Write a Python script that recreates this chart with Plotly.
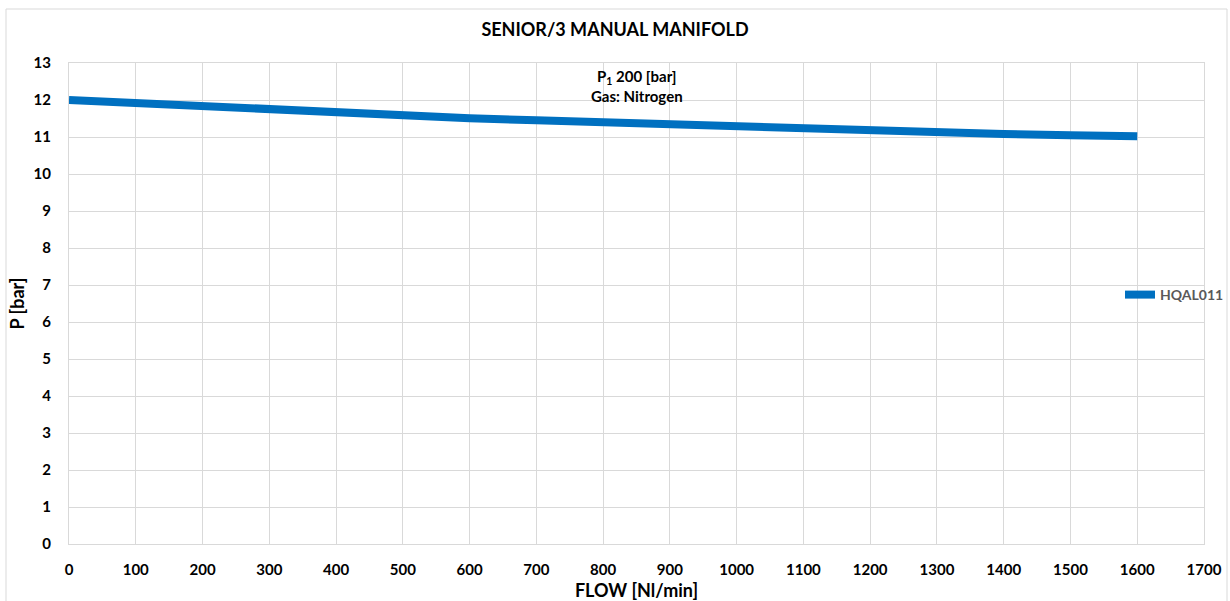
import plotly.graph_objects as go

flow = [0, 100, 200, 300, 400, 500, 600, 700, 800, 900, 1000, 1100, 1200, 1300, 1400, 1500, 1600]
pressure = [12.00, 11.91, 11.83, 11.74, 11.65, 11.58, 11.51, 11.45, 11.39, 11.33, 11.27, 11.23, 11.17, 11.12, 11.08, 11.05, 11.02]
series_name = "HQAL011"
x_ticks = list(range(0, 1701, 100))
y_ticks = list(range(0, 14))

FONT = "Lato, Calibri, Carlito, sans-serif"
GRID = "#D9D9D9"

fig = go.Figure()
fig.add_trace(go.Scatter(
    x=flow, y=pressure, mode="lines", name=series_name,
    line=dict(color="#0070C0", width=8),
))

L, R, T, B = 69, 26, 63, 57
W, H = 1230, 601
pw, ph = W - L - R, H - T - B

fig.update_layout(
    width=W, height=H,
    margin=dict(l=L, r=R, t=T, b=B, autoexpand=False),
    paper_bgcolor="white", plot_bgcolor="white",
    font=dict(family=FONT, color="#000000"),
    title=dict(text="<b>SENIOR/3 MANUAL MANIFOLD</b>", x=0.5, xanchor="center",
               y=1 - 30 / H, yanchor="middle", font=dict(size=18, color="#000000")),
    showlegend=True,
    legend=dict(x=(1120 - L) / pw, xanchor="left", y=(H - B - 295) / ph, yanchor="middle",
                bgcolor="rgba(0,0,0,0)",
                font=dict(size=14, color="#595959", family=FONT, weight="bold")),
    xaxis=dict(range=[0, 1700], tickvals=x_ticks, ticktext=[f"<b>{v}</b>" for v in x_ticks],
               showgrid=True, gridcolor=GRID, gridwidth=1, zeroline=False, automargin=False,
               showline=True, linecolor=GRID, linewidth=1, mirror=True,
               tickfont=dict(size=15, color="#000000"), ticks="", ticklabelstandoff=12,
               title=dict(text="<b>FLOW [Nl/min]</b>", font=dict(size=18), standoff=8)),
    yaxis=dict(range=[0, 13], tickvals=y_ticks, ticktext=[f"<b>{v}</b>" for v in y_ticks],
               showgrid=True, gridcolor=GRID, gridwidth=1, zeroline=False, automargin=False,
               showline=True, linecolor=GRID, linewidth=1, mirror=True,
               tickfont=dict(size=15, color="#000000"), ticks="", ticklabelstandoff=14,
               title=dict(text="<b>P [bar]</b>", font=dict(size=18), standoff=4)),
)

fig.add_annotation(
    text="<b>P<sub>1</sub> 200 [bar]</b><br><b>Gas: Nitrogen</b>",
    xref="paper", yref="paper", x=0.5, y=(H - B - 86) / ph, xanchor="center", yanchor="middle",
    showarrow=False, font=dict(size=15, color="#000000", family=FONT), align="center",
)

# chart frame
fig.add_shape(type="rect", xref="paper", yref="paper",
              x0=(6 - L) / pw, x1=(1227 - L) / pw,
              y0=(H - B - 610) / ph, y1=(H - B - 9) / ph,
              line=dict(color=GRID, width=1), fillcolor="rgba(0,0,0,0)", layer="below")

fig.write_html("out.html", config={"displayModeBar": False},
               post_script="document.body.style.margin='0';document.body.style.overflow='hidden';")
